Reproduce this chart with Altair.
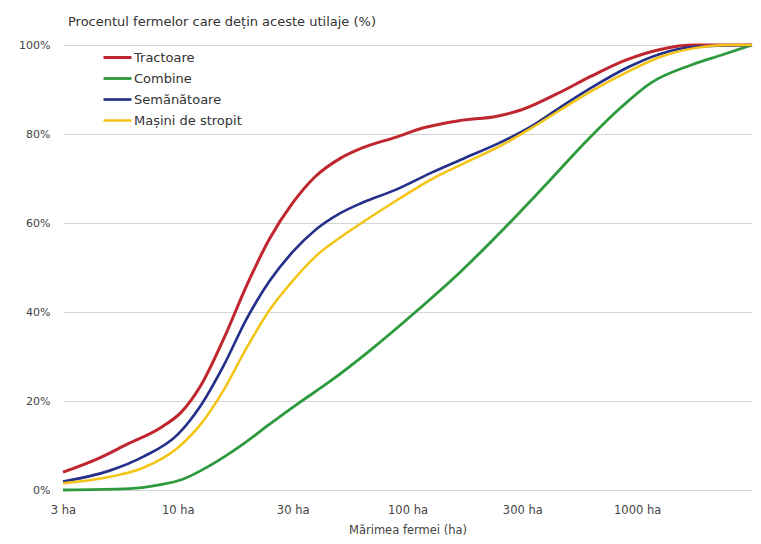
import altair as alt
import pandas as pd

# Position along the farm-size axis: 0 = 3 ha, 1 = 10 ha, 2 = 30 ha, 3 = 100 ha, 4 = 300 ha, 5 = 1000 ha, 6 = 3000 ha
tick_labels = ["3 ha", "10 ha", "30 ha", "100 ha", "300 ha", "1000 ha"]

series_names = ["Tractoare", "Combine", "Semănătoare", "Mașini de stropit"]
series_colors = ["#c0262d", "#2e9a3e", "#25308a", "#f3c414"]
series_widths = [3, 2.5, 2.5, 3.5]

tractoare_x = [0, 0.3, 0.56, 0.85, 1.03, 1.2, 1.4, 1.6, 1.8, 2.0, 2.2, 2.4, 2.6, 2.9, 3.14, 3.45, 3.78, 4.0, 4.3, 4.6, 4.9, 5.2, 5.5, 6.0]
tractoare_y = [4.0, 7.0, 10.3, 14.0, 17.5, 23.5, 34.0, 46.0, 56.5, 64.5, 70.5, 74.3, 76.8, 79.3, 81.4, 83.0, 84.0, 85.5, 89.0, 93.0, 96.6, 99.0, 100, 100]

combine_x = [0, 0.58, 0.85, 1.03, 1.28, 1.54, 1.80, 2.04, 2.33, 2.68, 3.07, 3.46, 3.85, 4.20, 4.58, 4.86, 5.12, 5.47, 5.73, 6.0]
combine_y = [0.0, 0.3, 1.2, 2.3, 5.5, 9.8, 14.8, 19.3, 24.5, 31.5, 40.0, 49.0, 59.0, 68.5, 79.0, 86.0, 91.5, 95.5, 97.7, 100]

semanatoare_x = [0, 0.4, 0.7, 1.0, 1.2, 1.4, 1.6, 1.8, 2.0, 2.2, 2.4, 2.6, 2.9, 3.2, 3.5, 3.8, 4.07, 4.33, 4.62, 4.92, 5.2, 5.5, 6.0]
semanatoare_y = [1.9, 4.3, 7.5, 12.5, 19.0, 28.0, 38.5, 47.0, 53.5, 58.5, 62.0, 64.5, 67.5, 71.2, 74.6, 78.0, 81.6, 86.0, 90.7, 95.0, 98.0, 99.6, 100]

masini_x = [0, 0.4, 0.7, 1.0, 1.2, 1.4, 1.6, 1.8, 2.0, 2.2, 2.4, 2.6, 2.9, 3.2, 3.5, 3.8, 4.07, 4.33, 4.62, 4.92, 5.2, 5.5, 5.8, 6.0]
masini_y = [1.5, 2.9, 5.0, 9.5, 14.8, 22.5, 32.0, 40.5, 47.0, 52.5, 56.5, 60.0, 65.0, 69.7, 73.5, 77.2, 81.2, 85.4, 89.9, 94.0, 97.3, 99.3, 100, 100]

rows = []
for name, xs, ys in [
    ("Tractoare", tractoare_x, tractoare_y),
    ("Combine", combine_x, combine_y),
    ("Semănătoare", semanatoare_x, semanatoare_y),
    ("Mașini de stropit", masini_x, masini_y),
]:
    for x, y in zip(xs, ys):
        rows.append({"utilaj": name, "pos": x, "pct": y})
df = pd.DataFrame(rows)

label_expr = "[" + ",".join("'" + t + "'" for t in tick_labels) + "][datum.value]"

FONT = "DejaVu Sans"

chart = alt.Chart(df).mark_line(interpolate="monotone").encode(
    x=alt.X(
        "pos:Q",
        scale=alt.Scale(domain=[0, 6], nice=False, zero=False),
        axis=alt.Axis(
            values=list(range(len(tick_labels))),
            labelExpr=label_expr,
            labelFlush=False,
            grid=False,
            domain=False,
            ticks=False,
            labelPadding=14,
            labelFontSize=11.5,
            labelColor="#444444",
            labelFont=FONT,
            title="Mărimea fermei (ha)",
            titleFont=FONT,
            titleFontSize=11.5,
            titleFontWeight="normal",
            titleColor="#444444",
            titlePadding=9,
        ),
    ),
    y=alt.Y(
        "pct:Q",
        scale=alt.Scale(domain=[0, 100], nice=False),
        axis=alt.Axis(
            values=[0, 20, 40, 60, 80, 100],
            labelExpr="datum.value + '%'",
            grid=True,
            gridColor="#d4d4d4",
            gridWidth=1,
            domain=False,
            ticks=False,
            labelPadding=13,
            labelFontSize=11,
            labelColor="#444444",
            labelFont=FONT,
            title=None,
        ),
    ),
    color=alt.Color(
        "utilaj:N",
        scale=alt.Scale(domain=series_names, range=series_colors),
        sort=series_names,
        legend=alt.Legend(
            title=None,
            orient="none",
            legendX=46,
            legendY=4,
            symbolType="M-2,0H2",
            symbolSize=196,
            symbolStrokeWidth=3,
            labelFontSize=13,
            labelFont=FONT,
            labelColor="#333333",
            labelOffset=8,
            rowPadding=5,
        ),
    ),
    strokeWidth=alt.StrokeWidth(
        "utilaj:N",
        scale=alt.Scale(domain=series_names, range=series_widths),
        legend=None,
    ),
    order=alt.Order("pos:Q"),
).properties(
    width=689,
    height=445,
    title=alt.TitleParams(
        "Procentul fermelor care dețin aceste utilaje (%)",
        anchor="start",
        frame="group",
        fontSize=13,
        fontWeight="normal",
        font=FONT,
        color="#333333",
        offset=10,
        dx=5,
    ),
    autosize=alt.AutoSizeParams(type="none"),
    padding={"left": 55, "top": 37, "right": 1, "bottom": 52},
).configure_view(stroke=None)

chart.save("out.html", embed_options={"renderer": "svg", "actions": False})
